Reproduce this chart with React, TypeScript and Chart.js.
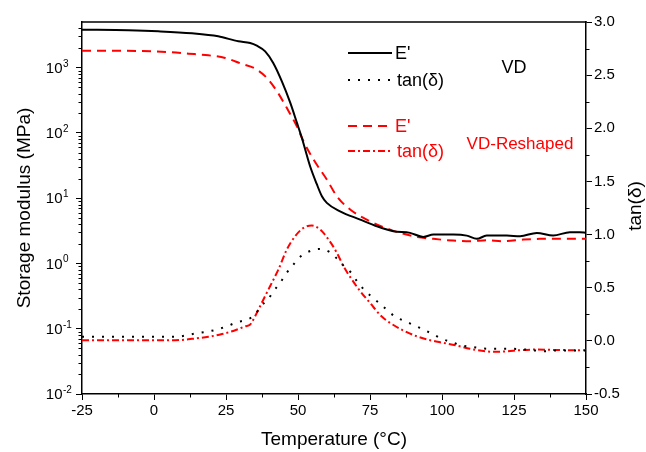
import React, { useEffect, useRef } from 'react';
import { Chart, registerables } from 'chart.js';

Chart.register(...registerables);

// ---- data ----
const vdModulusTemp = [-25, -8.9, 1.5, 13.2, 22.3, 29.3, 33.4, 35.7, 38.6, 41.4, 44.4, 47.3, 49.6, 51.3, 52.5, 54.2, 56.5, 58.3, 60.0, 64.6, 71.6, 77.4, 83.1, 88.9, 93.5, 97.0, 103.9, 108.6, 112.1, 115.5, 122.5, 127.1, 132.9, 138.6, 144.4, 147.9, 150];
const vdModulus = [3820, 3727, 3594, 3350, 3013, 2529, 2390, 2173, 1778, 1180, 617, 291, 144, 85, 55.5, 30.8, 16.5, 10.7, 8.47, 6.3, 4.7, 3.71, 3.11, 2.94, 2.55, 2.77, 2.77, 2.67, 2.38, 2.67, 2.67, 2.61, 2.94, 2.67, 3.01, 3.01, 2.95];

const vdTanTemp = [-25, -22.1, 7.4, 14.3, 17.8, 21.8, 25.3, 28.8, 32.3, 35.1, 36.9, 39.7, 41.5, 43.8, 45.9, 48.2, 50.7, 54.0, 57.4, 60.9, 63.5, 66.0, 68.7, 70.4, 72.7, 75.6, 78.5, 81.4, 83.7, 87.2, 90.6, 93.5, 96.4, 99.9, 103.5, 106.9, 110.3, 114.3, 117.8, 124.8, 129.4, 135.8, 139.8, 146.8, 150];
const vdTan = [0.038, 0.038, 0.038, 0.069, 0.083, 0.106, 0.137, 0.175, 0.2, 0.247, 0.32, 0.395, 0.467, 0.546, 0.633, 0.711, 0.79, 0.843, 0.865, 0.837, 0.774, 0.702, 0.633, 0.564, 0.489, 0.414, 0.349, 0.278, 0.229, 0.184, 0.144, 0.106, 0.069, 0.019, -0.013, -0.044, -0.056, -0.072, -0.075, -0.075, -0.082, -0.098, -0.091, -0.091, -0.091];

const reModulusTemp = [-25, -15.8, -0.7, 6.2, 12.0, 18.9, 24.7, 30.5, 35.1, 39.2, 42.7, 46.1, 49.6, 51.9, 55.4, 60.0, 63.5, 68.1, 75.0, 82.0, 85.5, 91.2, 97.0, 103.9, 109.7, 115.5, 121.3, 128.2, 134.0, 145.6, 150];
const reModulus = [1820, 1820, 1778, 1715, 1637, 1542, 1408, 1140, 966, 696, 434, 242, 126, 74.4, 39.0, 19.3, 10.7, 6.69, 4.43, 3.3, 2.94, 2.55, 2.38, 2.24, 2.19, 2.27, 2.19, 2.32, 2.38, 2.4, 2.4];

const reTanTemp = [-25, 7.4, 13.2, 18.9, 23.6, 28.2, 31.7, 33.4, 34.5, 35.7, 38.0, 40.3, 43.2, 46.1, 49.0, 51.9, 54.8, 57.7, 60.6, 63.5, 65.8, 68.7, 71.6, 75.0, 78.9, 82.3, 86.6, 91.2, 95.9, 100.5, 105.1, 109.7, 113.2, 117.8, 122.5, 127.1, 132.9, 138.6, 146.8, 150];
const reTan = [0.006, 0.006, 0.019, 0.038, 0.064, 0.1, 0.137, 0.153, 0.2, 0.263, 0.389, 0.514, 0.671, 0.859, 0.984, 1.063, 1.085, 1.047, 0.953, 0.828, 0.702, 0.577, 0.467, 0.357, 0.233, 0.163, 0.097, 0.043, 0.006, -0.019, -0.044, -0.075, -0.091, -0.103, -0.098, -0.088, -0.082, -0.085, -0.088, -0.088];

const xTicks = [-25, 0, 25, 50, 75, 100, 125, 150];
const logTicks = [0.01, 0.1, 1, 10, 100, 1000];
const logExponents = ['-2', '-1', '0', '1', '2', '3'];
const tanTicks = [-0.5, 0, 0.5, 1, 1.5, 2, 2.5, 3];

const xTitle = 'Temperature (°C)';
const leftTitle = 'Storage modulus (MPa)';
const rightTitle = 'tan(δ)';
const legendLabels = ["E'", 'tan(δ)', "E'", 'tan(δ)'];
const groupLabels = ['VD', 'VD-Reshaped'];

const FONT = '"Liberation Sans", Arial, sans-serif';
const RED = '#ff0000';
const BLACK = '#000000';

const styles = [
  { color: BLACK, dash: [] as number[], width: 2 },
  { color: BLACK, dash: [2, 8], width: 2 },
  { color: RED, dash: [9, 6], width: 2 },
  { color: RED, dash: [7, 3, 2, 3], width: 2 },
];

const toXY = (xs: number[], ys: number[]) => xs.map((x, i) => ({ x, y: ys[i] }));

const decorPlugin = {
  id: 'decor',
  afterDraw(chart: any) {
    const { ctx, chartArea } = chart;
    const { left, right, top, bottom } = chartArea;
    const sx = chart.scales.x;
    const sE = chart.scales.yE;
    const sT = chart.scales.yT;
    const line = (x1: number, y1: number, x2: number, y2: number) => {
      ctx.beginPath();
      ctx.moveTo(x1, y1);
      ctx.lineTo(x2, y2);
      ctx.stroke();
    };
    ctx.save();
    ctx.strokeStyle = BLACK;
    ctx.lineWidth = 1.5;
    line(left - 0.75, top, right + 0.75, top);

    // minor ticks
    ctx.lineWidth = 1;
    for (let v = -12.5; v < 150; v += 25) {
      const px = Math.round(sx.getPixelForValue(v)) + 0.5;
      line(px, bottom, px, bottom + 3.5);
    }
    for (let k = -2; k <= 3; k++) {
      for (let m = 2; m <= 9; m++) {
        const v = m * Math.pow(10, k);
        if (v >= 5000) break;
        const py = Math.round(sE.getPixelForValue(v)) + 0.5;
        line(left - 3.5, py, left, py);
      }
    }
    for (let v = -0.25; v < 3; v += 0.5) {
      const py = Math.round(sT.getPixelForValue(v)) + 0.5;
      line(right, py, right + 3.5, py);
    }

    // log tick labels with superscripts
    ctx.fillStyle = BLACK;
    logTicks.forEach((v, i) => {
      const py = sE.getPixelForValue(v);
      ctx.font = `15px ${FONT}`;
      ctx.textAlign = 'right';
      ctx.textBaseline = 'middle';
      ctx.fillText('10', 62.5, py + 1);
      ctx.font = `10px ${FONT}`;
      ctx.textAlign = 'left';
      ctx.textBaseline = 'alphabetic';
      ctx.fillText(logExponents[i], 63, py - 1);
    });

    // axis titles
    ctx.font = `19px ${FONT}`;
    ctx.textAlign = 'center';
    ctx.textBaseline = 'middle';
    ctx.fillText(xTitle, (left + right) / 2, 440);
    ctx.save();
    ctx.translate(25, (top + bottom) / 2);
    ctx.rotate(-Math.PI / 2);
    ctx.fillText(leftTitle, 0, 0);
    ctx.restore();
    ctx.save();
    ctx.translate(636, (top + bottom) / 2 - 2);
    ctx.rotate(-Math.PI / 2);
    ctx.fillText(rightTitle, 0, 0);
    ctx.restore();

    // legend
    const rows = [53, 80, 126, 151];
    rows.forEach((y, i) => {
      const s = styles[i];
      ctx.strokeStyle = s.color;
      ctx.lineWidth = s.width;
      ctx.setLineDash(s.dash);
      line(348, y, 392, y);
      ctx.setLineDash([]);
      ctx.fillStyle = s.color;
      ctx.font = `18px ${FONT}`;
      ctx.textAlign = 'left';
      ctx.textBaseline = 'middle';
      ctx.fillText(legendLabels[i], i % 2 === 0 ? 395 : 397, y + 1);
    });
    ctx.textAlign = 'center';
    ctx.fillStyle = BLACK;
    ctx.fillText(groupLabels[0], 514, 68);
    ctx.fillStyle = RED;
    ctx.font = `17px ${FONT}`;
    ctx.fillText(groupLabels[1], 520, 144);
    ctx.restore();
  },
};

export default function App() {
  const ref = useRef<HTMLCanvasElement | null>(null);

  useEffect(() => {
    if (!ref.current) return;
    const mk = (label: string, xs: number[], ys: number[], axis: string, i: number) => ({
      label,
      data: toXY(xs, ys),
      yAxisID: axis,
      borderColor: styles[i].color,
      borderWidth: styles[i].width,
      borderDash: styles[i].dash,
      pointRadius: 0,
      fill: false,
      cubicInterpolationMode: 'monotone' as const,
    });
    const tickFont = { family: FONT, size: 15 };
    const chart = new Chart(ref.current, {
      type: 'line',
      data: {
        datasets: [
          mk("VD E'", vdModulusTemp, vdModulus, 'yE', 0),
          mk('VD tan', vdTanTemp, vdTan, 'yT', 1),
          mk("VD-Reshaped E'", reModulusTemp, reModulus, 'yE', 2),
          mk('VD-Reshaped tan', reTanTemp, reTan, 'yT', 3),
        ],
      },
      options: {
        animation: false,
        responsive: false,
        devicePixelRatio: 1,
        layout: { padding: { top: 22, left: 0, right: 0, bottom: 0 } },
        plugins: { legend: { display: false }, tooltip: { enabled: false } },
        scales: {
          x: {
            type: 'linear',
            position: 'bottom',
            min: -25,
            max: 150,
            afterBuildTicks: (s: any) => {
              s.ticks = xTicks.map((v) => ({ value: v }));
            },
            afterFit: (s: any) => {
              s.height = 58;
            },
            ticks: { font: tickFont, color: BLACK, padding: 2, maxRotation: 0, autoSkip: false },
            grid: { drawOnChartArea: false, drawTicks: true, tickLength: 6, tickColor: BLACK, tickWidth: 1 },
            border: { color: BLACK, width: 1.5 },
          },
          yE: {
            type: 'logarithmic',
            position: 'left',
            min: 0.01,
            max: 5000,
            afterBuildTicks: (s: any) => {
              s.ticks = logTicks.map((v) => ({ value: v, major: true }));
            },
            afterFit: (s: any) => {
              s.width = 82;
            },
            ticks: { callback: () => '', font: tickFont, color: BLACK, autoSkip: false },
            grid: { drawOnChartArea: false, drawTicks: true, tickLength: 6, tickColor: BLACK, tickWidth: 1 },
            border: { color: BLACK, width: 1.5 },
          },
          yT: {
            type: 'linear',
            position: 'right',
            min: -0.5,
            max: 3,
            afterBuildTicks: (s: any) => {
              s.ticks = tanTicks.map((v) => ({ value: v }));
            },
            afterFit: (s: any) => {
              s.width = 60;
            },
            ticks: {
              font: tickFont,
              color: BLACK,
              padding: 2,
              autoSkip: false,
              callback: (v: any) => Number(v).toFixed(1),
            },
            grid: { drawOnChartArea: false, drawTicks: true, tickLength: 6, tickColor: BLACK, tickWidth: 1 },
            border: { color: BLACK, width: 1.5 },
          },
        },
      },
      plugins: [decorPlugin],
    } as any);
    return () => chart.destroy();
  }, []);

  return (
    <div style={{ position: 'absolute', left: 0, top: 0, width: 646, height: 452, background: '#fff' }}>
      <canvas ref={ref} width={646} height={452} style={{ display: 'block' }} />
    </div>
  );
}
